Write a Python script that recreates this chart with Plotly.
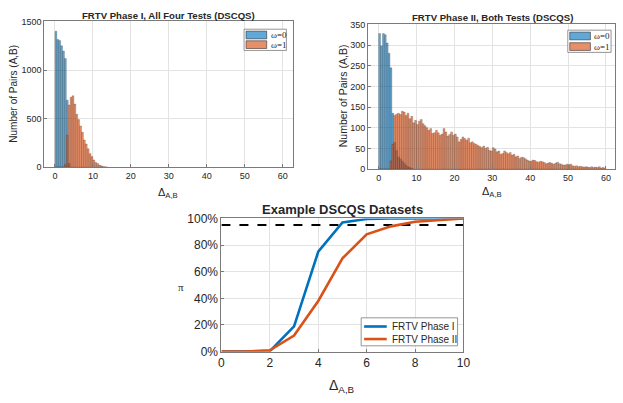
import plotly.graph_objects as go

W, H = 623, 403

# ---------------- data ----------------
BIN_WIDTH = 0.5
# Phase I histogram counts (bins of 0.5 starting at 0)
phase1_w0 = [1400, 1315, 1305, 1250, 1195, 1120, 690, 40]
phase1_w1 = [0, 0, 0, 0, 0, 30, 330, 640, 720, 735, 650, 545, 490, 425, 360,
             280, 240, 190, 140, 110, 75, 50, 38, 22, 14, 8, 4, 2]
# Phase II histogram counts
phase2_w0 = [328, 298, 328, 325, 305, 280, 245, 135, 65, 45, 30, 25, 20, 15,
             10, 6, 4, 2]
phase2_w1 = [0, 0, 0, 0, 0, 0, 20, 60, 130, 133, 135, 132, 140, 138, 130, 135,
             122, 128, 112, 118, 108, 116, 120, 110, 105, 100, 94, 98, 86, 88,
             94, 88, 82, 85, 98, 90, 80, 84, 90, 82, 85, 78, 66, 72, 78, 74,
             70, 75, 64, 66, 62, 60, 57, 55, 52, 56, 50, 53, 46, 44, 52, 49,
             42, 44, 36, 38, 44, 40, 37, 40, 34, 36, 30, 32, 26, 29, 28, 25,
             22, 20, 19, 22, 21, 18, 17, 19, 18, 16, 13, 15, 16, 14, 12, 15,
             17, 13, 12, 10, 10, 12, 11, 12, 8, 7, 8, 6, 7, 6, 5, 6, 5, 4, 6,
             4, 5, 4, 6, 3, 4, 3]
hist_names = ["ω=0", "ω=1"]

# Cumulative curves
delta_vals = [0, 1, 2, 3, 4, 5, 6, 7, 8, 9, 10]
pi_phase1 = [0, 0, 0.3, 19, 75, 97, 99.5, 100, 100, 100, 100]
pi_phase2 = [0, 0, 1, 12, 38, 70, 88, 94, 97.5, 99, 100]
cdf_names = ["FRTV Phase I", "FRTV Phase II"]
THRESHOLD = 95

hist_ticks_x = [0, 10, 20, 30, 40, 50, 60]
h1_ticks_y = [0, 500, 1000, 1500]
h2_ticks_y = [0, 50, 100, 150, 200, 250, 300, 350]
cdf_ticks_x = [0, 2, 4, 6, 8, 10]
cdf_ticks_y = [0, 20, 40, 60, 80, 100]
cdf_ticks_y_text = ["0%", "20%", "40%", "60%", "80%", "100%"]

# ---------------- style ----------------
BLUE = "#0072BD"
ORANGE = "#D95319"
BLUE_A = "rgba(0,114,189,0.62)"
ORANGE_A = "rgba(217,83,25,0.65)"
TXT = "#262626"
GRID = "#e3e3e3"
AX = "#7a7a7a"
FONT = "Liberation Sans, Arial, sans-serif"
SERIF = "Liberation Serif, Times New Roman, serif"


def centers(counts):
    return [i * BIN_WIDTH + BIN_WIDTH / 2 for i in range(len(counts))]


def px_dom(a, b):
    return [a / W, b / W]


def py_dom(top, bottom):
    return [1 - bottom / H, 1 - top / H]


fig = go.Figure()

bar_line = dict(color="rgba(40,40,40,0.55)", width=0.4)

fig.add_trace(go.Bar(x=centers(phase1_w0), y=phase1_w0, width=BIN_WIDTH,
                     marker=dict(color=BLUE_A, line=bar_line), name=hist_names[0],
                     xaxis="x", yaxis="y"))
fig.add_trace(go.Bar(x=centers(phase1_w1), y=phase1_w1, width=BIN_WIDTH,
                     marker=dict(color=ORANGE_A, line=bar_line), name=hist_names[1],
                     xaxis="x", yaxis="y"))
fig.add_trace(go.Bar(x=centers(phase2_w0), y=phase2_w0, width=BIN_WIDTH,
                     marker=dict(color=BLUE_A, line=bar_line), name=hist_names[0],
                     xaxis="x2", yaxis="y2"))
fig.add_trace(go.Bar(x=centers(phase2_w1), y=phase2_w1, width=BIN_WIDTH,
                     marker=dict(color=ORANGE_A, line=bar_line), name=hist_names[1],
                     xaxis="x2", yaxis="y2"))

fig.add_trace(go.Scatter(x=[delta_vals[0], delta_vals[-1]], y=[THRESHOLD, THRESHOLD],
                         mode="lines", line=dict(color="black", width=2, dash="dash"),
                         xaxis="x3", yaxis="y3"))
fig.add_trace(go.Scatter(x=delta_vals, y=pi_phase1, mode="lines",
                         line=dict(color=BLUE, width=2.6), name=cdf_names[0],
                         xaxis="x3", yaxis="y3"))
fig.add_trace(go.Scatter(x=delta_vals, y=pi_phase2, mode="lines",
                         line=dict(color=ORANGE, width=2.6), name=cdf_names[1],
                         xaxis="x3", yaxis="y3"))

common = dict(showline=True, mirror=True, linecolor=AX, linewidth=1,
              showgrid=True, gridcolor=GRID, gridwidth=1, zeroline=False,
              ticks="inside", ticklen=3, tickcolor=AX, tickformat="d",
              tickfont=dict(family=FONT, size=9, color=TXT))
big = {**common, "tickfont": dict(family=FONT, size=12, color=TXT)}

fig.update_layout(
    width=W, height=H, margin=dict(l=0, r=0, t=0, b=0),
    paper_bgcolor="white", plot_bgcolor="white",
    barmode="overlay", bargap=0, showlegend=False,
    xaxis=dict(domain=px_dom(42, 295), range=[-2.8, 62.8],
               tickvals=hist_ticks_x, anchor="y", **common),
    yaxis=dict(domain=py_dom(15, 166), range=[0, 1500],
               tickvals=h1_ticks_y, anchor="x", **common),
    xaxis2=dict(domain=px_dom(371, 622), range=[-2.8, 62.4],
                tickvals=hist_ticks_x, anchor="y2", **common),
    yaxis2=dict(domain=py_dom(18, 168), range=[0, 350],
                tickvals=h2_ticks_y, anchor="x2", **common),
    xaxis3=dict(domain=px_dom(222, 468), range=[0, 10],
                tickvals=cdf_ticks_x, anchor="y3", **big),
    yaxis3=dict(domain=py_dom(219, 357), range=[0, 100],
                tickvals=cdf_ticks_y, ticktext=cdf_ticks_y_text, anchor="x3", **big),
)

ann = []
shapes = []


def text(x, y, s, size, bold=False, angle=0, family=FONT, xanchor="center"):
    ann.append(dict(x=x / W, y=1 - y / H, xref="paper", yref="paper",
                    text=f"<b>{s}</b>" if bold else s, showarrow=False,
                    textangle=angle, xanchor=xanchor, yanchor="middle",
                    font=dict(family=family, size=size, color=TXT)))


def rect(x0, y0, x1, y1, fill, line_color, lw=0.8):
    shapes.append(dict(type="rect", xref="paper", yref="paper",
                       x0=x0 / W, x1=x1 / W, y0=1 - y1 / H, y1=1 - y0 / H,
                       fillcolor=fill, line=dict(color=line_color, width=lw)))


def seg(x0, y0, x1, y1, color, lw):
    shapes.append(dict(type="line", xref="paper", yref="paper",
                       x0=x0 / W, x1=x1 / W, y0=1 - y0 / H, y1=1 - y1 / H,
                       line=dict(color=color, width=lw)))


text(168, 9, "FRTV Phase I, All Four Tests (DSCQS)", 9.6, bold=True)
text(497, 11, "FRTV Phase II, Both Tests (DSCQS)", 9.6, bold=True)
text(345, 210, "Example DSCQS Datasets", 13, bold=True)
text(11, 90, "Number of Pairs (A,B)", 10, angle=-90)
text(345, 92, "Number of Pairs (A,B)", 10.5, angle=-90)
text(168, 193, "Δ<sub>A,B</sub>", 11)
text(497, 192, "Δ<sub>A,B</sub>", 11)
text(345, 393, "Δ<sub>A,B</sub>", 14)
text(181, 290, "π", 11, family=SERIF)

# legend: Phase I histogram
rect(245, 23, 288, 45, "white", AX)
rect(247, 25, 268, 33, BLUE_A, "rgba(40,40,40,0.7)")
rect(247, 35, 268, 43, ORANGE_A, "rgba(40,40,40,0.7)")
text(270, 29, hist_names[0], 9, family=SERIF, xanchor="left")
text(270, 39, hist_names[1], 9, family=SERIF, xanchor="left")

# legend: Phase II histogram
rect(574, 24, 618, 47, "white", AX)
rect(576, 26, 597, 34, BLUE_A, "rgba(40,40,40,0.7)")
rect(576, 37, 597, 45, ORANGE_A, "rgba(40,40,40,0.7)")
text(599, 30, hist_names[0], 9, family=SERIF, xanchor="left")
text(599, 41, hist_names[1], 9, family=SERIF, xanchor="left")

# legend: cumulative curves
rect(364, 322, 462, 351, "white", AX)
seg(367, 331, 390, 331, BLUE, 2.6)
seg(367, 344, 390, 344, ORANGE, 2.6)
text(393, 331, cdf_names[0], 10, xanchor="left")
text(393, 344, cdf_names[1], 10, xanchor="left")

fig.update_layout(annotations=ann, shapes=shapes)

fig.write_html(
    "out.html",
    config={"displayModeBar": False, "staticPlot": True},
    post_script="document.body.style.margin='0';document.body.style.overflow='hidden';",
)
